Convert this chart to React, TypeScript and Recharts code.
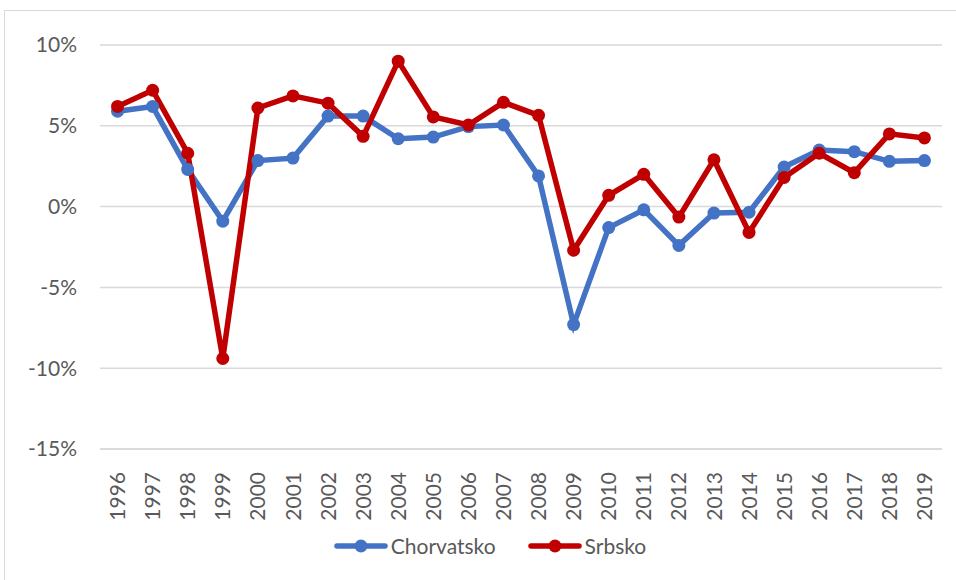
import React from 'react';
import { LineChart, Line, XAxis, YAxis, CartesianGrid } from 'recharts';

const years = [
  '1996', '1997', '1998', '1999', '2000', '2001', '2002', '2003', '2004', '2005', '2006', '2007',
  '2008', '2009', '2010', '2011', '2012', '2013', '2014', '2015', '2016', '2017', '2018', '2019',
];

const chorvatsko = [
  5.9, 6.2, 2.3, -0.9, 2.85, 3.0, 5.6, 5.6, 4.2, 4.3, 4.95, 5.05,
  1.9, -7.3, -1.3, -0.2, -2.4, -0.4, -0.35, 2.45, 3.5, 3.4, 2.8, 2.85,
];

const srbsko = [
  6.2, 7.2, 3.3, -9.4, 6.1, 6.85, 6.4, 4.35, 9.0, 5.55, 5.05, 6.45,
  5.65, -2.7, 0.7, 2.0, -0.65, 2.9, -1.6, 1.8, 3.3, 2.1, 4.5, 4.25,
];

const yTicks = [-15, -10, -5, 0, 5, 10];

const BLUE = '#4472C4';
const RED = '#C00000';
const TEXT = '#595959';
const FONT = 'Lato, "Open Sans", sans-serif';

const data = years.map((year, i) => ({
  year,
  Chorvatsko: chorvatsko[i],
  Srbsko: srbsko[i],
}));

const YearTick = (props: any) => {
  const { x, y, payload } = props;
  return (
    <g transform={`translate(${x},${y + 15})`}>
      <text
        transform="rotate(-90)"
        textAnchor="end"
        dy="0.36em"
        fill={TEXT}
        fontSize={21}
        fontFamily={FONT}
      >
        {payload.value}
      </text>
    </g>
  );
};

const legendItems = [
  { name: 'Chorvatsko', color: BLUE },
  { name: 'Srbsko', color: RED },
];

const ChartLegend = () => (
  <div
    style={{
      position: 'absolute',
      left: 0,
      top: 533,
      width: 956,
      display: 'flex',
      justifyContent: 'center',
      gap: 32,
      fontFamily: FONT,
      paddingLeft: 24,
      boxSizing: 'border-box',
    }}
  >
    {legendItems.map((it) => (
      <div key={it.name} style={{ display: 'flex', alignItems: 'center' }}>
        <svg width={54} height={16}>
          <line x1={3} y1={8} x2={51} y2={8} stroke={it.color} strokeWidth={5.5} strokeLinecap="round" />
          <circle cx={27} cy={8} r={6.5} fill={it.color} />
        </svg>
        <span style={{ color: TEXT, fontSize: 21, marginLeft: 3 }}>{it.name}</span>
      </div>
    ))}
  </div>
);

export default function App() {
  return (
    <div style={{ position: 'absolute', left: 0, top: 0, width: 956, height: 580, background: '#fff' }}>
      <div
        style={{
          position: 'absolute',
          left: 4,
          top: 10,
          width: 960,
          height: 580,
          border: '1.5px solid #d9d9d9',
          boxSizing: 'border-box',
        }}
      />
      <div style={{ position: 'absolute', left: 0, top: 0 }}>
        <LineChart width={956} height={580} data={data} margin={{ top: 45, right: 14, left: 0, bottom: 50 }}>
          <CartesianGrid vertical={false} stroke="#d9d9d9" strokeWidth={1.5} />
          <XAxis
            dataKey="year"
            scale="band"
            tick={<YearTick />}
            tickLine={false}
            axisLine={{ stroke: '#d9d9d9', strokeWidth: 1.5 }}
            height={81}
            interval={0}
          />
          <YAxis
            domain={[-15, 10]}
            ticks={yTicks}
            tickFormatter={(v: number) => `${v}%`}
            tick={{ fill: TEXT, fontSize: 21, fontFamily: FONT }}
            tickLine={false}
            axisLine={false}
            tickMargin={17}
            width={100}
          />
          <Line
            dataKey="Chorvatsko"
            stroke={BLUE}
            strokeWidth={5.5}
            dot={{ r: 6.5, fill: BLUE, stroke: BLUE, strokeWidth: 0 }}
            isAnimationActive={false}
          />
          <Line
            dataKey="Srbsko"
            stroke={RED}
            strokeWidth={5.5}
            dot={{ r: 6.5, fill: RED, stroke: RED, strokeWidth: 0 }}
            isAnimationActive={false}
          />
        </LineChart>
      </div>
      <ChartLegend />
    </div>
  );
}
